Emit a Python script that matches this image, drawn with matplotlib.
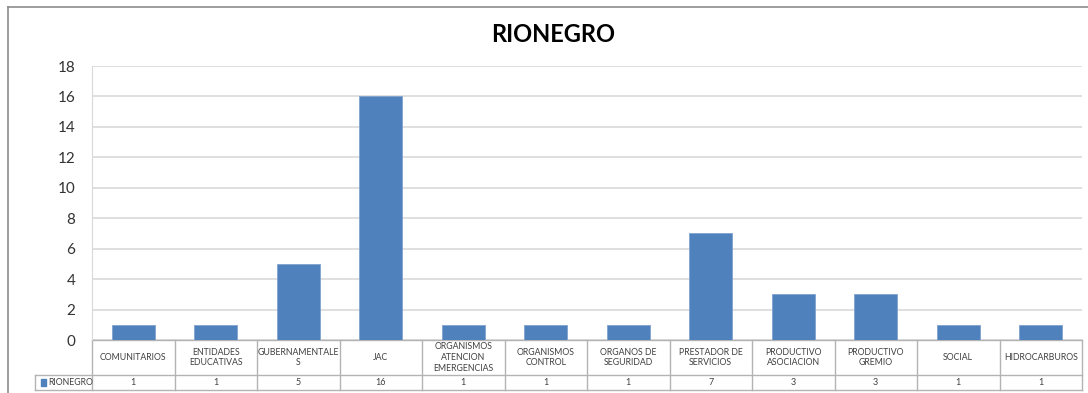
import matplotlib.pyplot as plt
from matplotlib.lines import Line2D
from matplotlib.patches import Rectangle

# Data
categories = ['COMUNITARIOS', 'ENTIDADES\nEDUCATIVAS', 'GUBERNAMENTALE\nS', 'JAC',
              'ORGANISMOS\nATENCION\nEMERGENCIAS', 'ORGANISMOS\nCONTROL', 'ORGANOS DE\nSEGURIDAD',
              'PRESTADOR DE\nSERVICIOS', 'PRODUCTIVO\nASOCIACION', 'PRODUCTIVO\nGREMIO',
              'SOCIAL', 'HIDROCARBUROS']
values = [1, 1, 5, 16, 1, 1, 1, 7, 3, 3, 1, 1]
series_name = 'RIONEGRO'
yticks = [0, 2, 4, 6, 8, 10, 12, 14, 16, 18]

bar_color = '#4F81BD'
grid_color = '#d9d9d9'
line_color = '#b3b3b3'
text_color = '#404040'
plt.rcParams['font.family'] = ['Lato', 'DejaVu Sans']

fig = plt.figure(figsize=(10.88, 3.93), dpi=100, facecolor='white')
ax = fig.add_axes([92/1088, 1 - 340/393, (1082 - 92)/1088, (340 - 66)/393])

x = list(range(len(categories)))
ax.bar(x, values, width=0.52, color=bar_color, edgecolor='#7fa3d0', linewidth=0.6, zorder=3)
ax.set_xlim(-0.5, len(categories) - 0.5)
ax.set_ylim(0, 18)
ax.set_yticks(yticks)
ax.set_yticklabels([str(t) for t in yticks], fontsize=11, color='#333333')
ax.tick_params(axis='y', length=0, pad=12)
ax.set_xticks([])
ax.grid(axis='y', color=grid_color, linewidth=1.2, zorder=0)
for s in ['top', 'right', 'bottom']:
    ax.spines[s].set_visible(False)
ax.spines['left'].set_color(grid_color)

fig.text(553/1088, 1 - 35/393, series_name, ha='center', va='center',
         fontsize=17, fontweight='bold', color='black')

# data table below the plot
trans = ax.get_xaxis_transform()
row1 = -35/274
row2 = -50/274
left_cell = -0.5 - 57 * 12 / 990
kw = dict(transform=trans, color=line_color, linewidth=1.0, clip_on=False)
ax.add_line(Line2D([-0.5, len(categories) - 0.5], [0, 0], **kw))
ax.add_line(Line2D([left_cell, len(categories) - 0.5], [row1, row1], **kw))
ax.add_line(Line2D([left_cell, len(categories) - 0.5], [row2, row2], **kw))
ax.add_line(Line2D([left_cell, left_cell], [row1, row2], **kw))
for i in range(len(categories) + 1):
    ax.add_line(Line2D([i - 0.5, i - 0.5], [0, row2], **kw))

for i, (cat, v) in enumerate(zip(categories, values)):
    ax.text(i, row1 / 2, cat, transform=trans, ha='center', va='center',
            fontsize=6.3, color=text_color, linespacing=1.25)
    ax.text(i, (row1 + row2) / 2, str(v), transform=trans, ha='center', va='center',
            fontsize=6.5, color=text_color)

# legend key in the table
ax.add_patch(Rectangle((left_cell + 0.07, (row1 + row2) / 2 - 0.012), 0.06, 0.024,
                       transform=trans, color=bar_color, clip_on=False))
ax.text(left_cell + 0.16, (row1 + row2) / 2, series_name, transform=trans,
        ha='left', va='center', fontsize=6.3, color=text_color)

# outer chart border
fig.add_artist(Line2D([8/1088, 1], [1 - 7/393, 1 - 7/393], transform=fig.transFigure,
                      color='#8c8c8c', linewidth=1.2))
fig.add_artist(Line2D([8/1088, 8/1088], [0, 1 - 7/393], transform=fig.transFigure,
                      color='#8c8c8c', linewidth=1.2))

fig.savefig('out.png', dpi=100, facecolor='white')
